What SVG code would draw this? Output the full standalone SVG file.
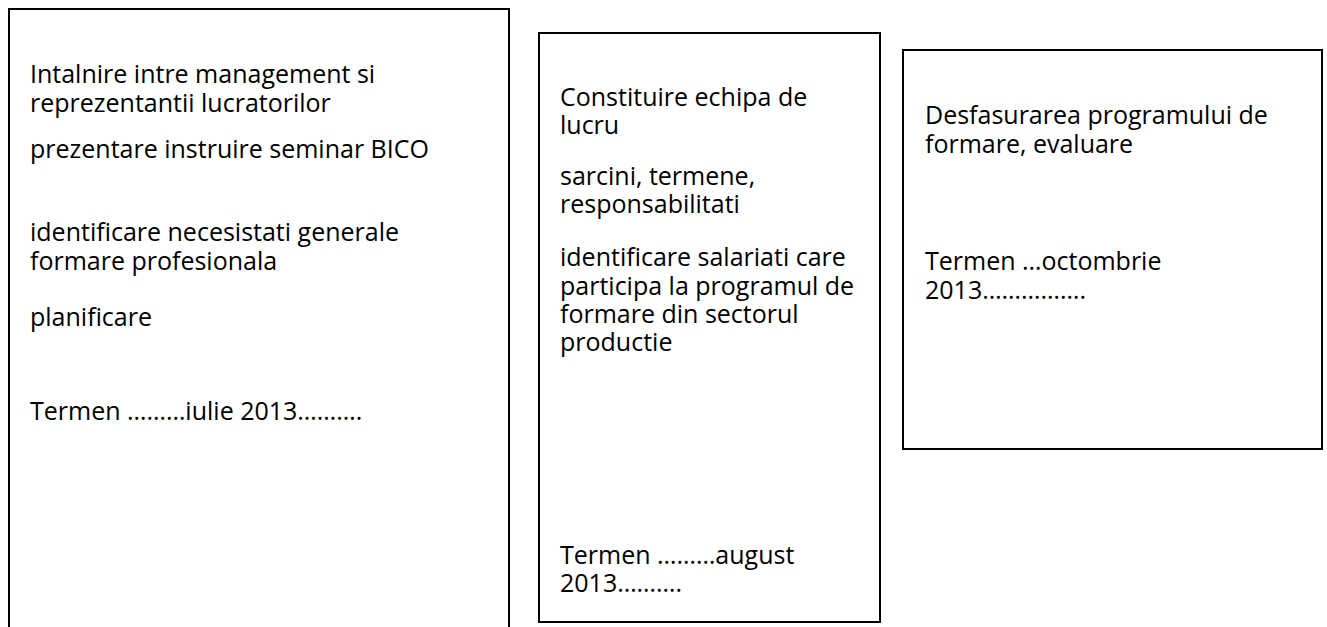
<svg xmlns="http://www.w3.org/2000/svg" width="1327" height="627" viewBox="0 0 1327 627">
<style>
.box{fill:#fff;stroke:#000;stroke-width:2}
.t{font-family:"Open Sans","Noto Sans",sans-serif;font-size:25px;fill:#000}
</style>
<rect width="1327" height="627" fill="#fff"/>
<g id="box1">
<rect class="box" x="9" y="9" width="500" height="640"/>
<text class="t" x="30" y="83">Intalnire intre management si<tspan x="30" y="112">reprezentantii lucratorilor</tspan></text>
<text class="t" x="30" y="158">prezentare instruire seminar BICO</text>
<text class="t" x="30" y="241">identificare necesistati generale<tspan x="30" y="270">formare profesionala</tspan></text>
<text class="t" x="30" y="326">planificare</text>
<text class="t" x="30" y="420">Termen ………iulie 2013……….</text>
</g>
<g id="box2">
<rect class="box" x="539" y="33" width="341" height="589"/>
<text class="t" x="560" y="106">Constituire echipa de<tspan x="560" y="134">lucru</tspan></text>
<text class="t" x="560" y="185">sarcini, termene,<tspan x="560" y="213">responsabilitati</tspan></text>
<text class="t" x="560" y="266">identificare salariati care<tspan x="560" y="295">participa la programul de</tspan><tspan x="560" y="323">formare din sectorul</tspan><tspan x="560" y="351">productie</tspan></text>
<text class="t" x="560" y="564">Termen ………august<tspan x="560" y="592">2013……….</tspan></text>
</g>
<g id="box3">
<rect class="box" x="903" y="50" width="419" height="399"/>
<text class="t" x="925" y="124">Desfasurarea programului de<tspan x="925" y="153">formare, evaluare</tspan></text>
<text class="t" x="925" y="270">Termen …octombrie<tspan x="925" y="299">2013…………….</tspan></text>
</g>
</svg>
